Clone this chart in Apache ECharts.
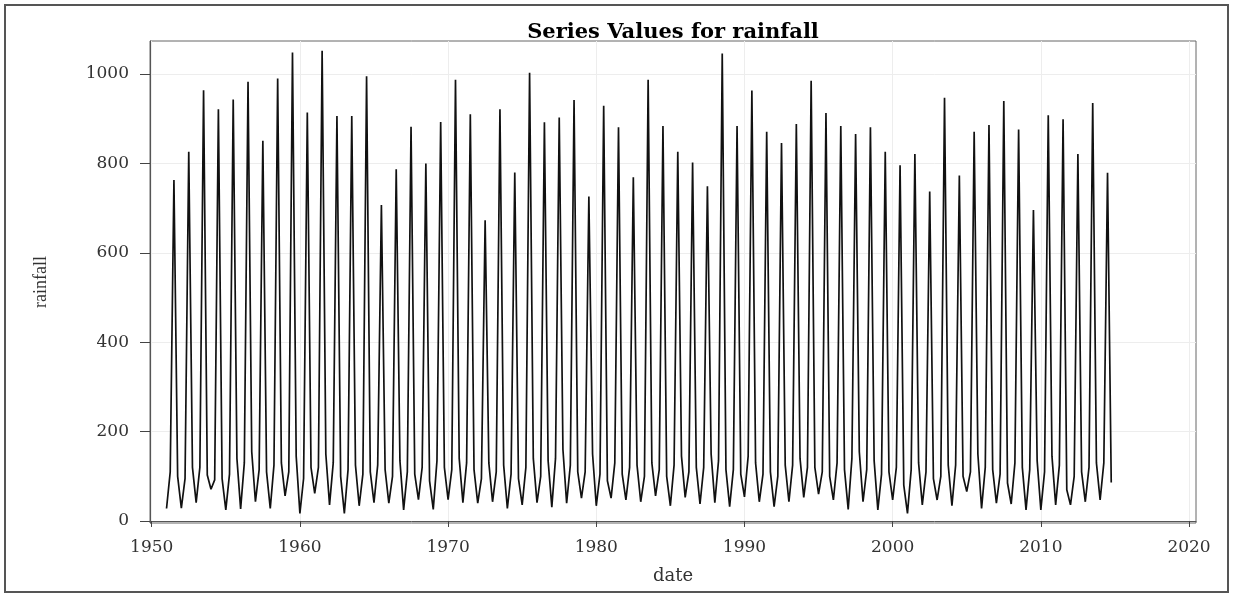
<!DOCTYPE html>
<html>
<head>
<meta charset="utf-8">
<script src="https://cdn.jsdelivr.net/npm/echarts@6/dist/echarts.min.js"></script>
<style>
html,body{margin:0;padding:0;background:#fff;}
#c{width:1233px;height:595px;}
</style>
</head>
<body>
<div id="c"></div>
<script>
// Seasonal rainfall, one row per year (1951-2014): winter (Q1), pre-monsoon (Q2), monsoon (Q3), post-monsoon (Q4)
const firstYear = 1951;
const q1Winter = [28,29,41,71,25,27,43,28,56,17, 62,36,17,34,41,40,25,48,26,48, 41,40,43,28,36,41,31,40,51,34, 51,47,43,56,34,53,38,41,32,54, 43,32,43,53,60,47,26,43,25,47, 17,36,47,34,66,28,40,38,25,25, 36,36,43,47];
const q2PreMonsoon = [110,95,120,92,105,130,115,125,110,95, 120,130,115,105,125,100,110,120,135,115, 130,95,110,105,120,100,140,125,110,105, 130,120,100,115,125,110,120,135,115,145, 105,100,125,120,110,130,140,115,105,120, 115,110,100,125,110,120,105,130,115,110, 125,100,120,130];
const q3Monsoon = [763,826,964,921,943,983,851,990,1048,914, 1052,906,906,995,707,787,882,800,893,987, 910,673,921,780,1003,892,903,942,726,929, 881,769,987,884,826,802,749,1046,884,963, 871,846,888,985,913,884,866,881,826,796, 821,737,947,773,871,886,940,876,696,908, 899,821,935,779];
const q4PostMonsoon = [100,120,103,95,140,155,110,130,145,120, 150,100,125,110,115,135,105,90,120,140, 115,130,125,95,140,135,160,110,150,90, 105,125,130,100,145,120,150,115,105,130, 110,125,140,120,100,115,155,135,110,80, 130,95,125,100,150,115,85,120,135,145, 70,110,130,86];
const xTicks = [1950,1960,1970,1980,1990,2000,2010,2020];
const yTicks = [0,200,400,600,800,1000];

const seasons = [q1Winter, q2PreMonsoon, q3Monsoon, q4PostMonsoon];
const seriesData = [];
for (let i = 0; i < q3Monsoon.length; i++) {
  for (let s = 0; s < 4; s++) {
    seriesData.push([firstYear + i + s * 0.25, seasons[s][i]]);
  }
}

const serifWide = '"DejaVu Serif","Liberation Serif",serif';
const serif = '"Liberation Serif","DejaVu Serif",serif';
const plain = function (v) { return String(v); };
const chart = echarts.init(document.getElementById('c'), null, {renderer: 'canvas'});
chart.setOption({
  animation: false,
  backgroundColor: '#fff',
  title: {
    text: 'Series Values for rainfall',
    left: 668,
    textAlign: 'center',
    top: 17,
    textStyle: {fontFamily: serifWide, fontWeight: 'bold', fontSize: 21, color: '#000'}
  },
  grid: {
    left: 150, right: 37, top: 41, bottom: 72,
    show: true, borderColor: '#666', borderWidth: 1, backgroundColor: 'transparent'
  },
  xAxis: {
    type: 'value',
    min: 1949.885, max: 2020.47,
    splitNumber: 7,
    name: 'date',
    nameLocation: 'middle',
    nameGap: 44,
    nameTextStyle: {fontFamily: serifWide, fontSize: 18, color: '#333'},
    axisLine: {show: true, lineStyle: {color: '#555', width: 1}},
    axisTick: {show: true, inside: false, length: 6, customValues: xTicks, lineStyle: {color: '#444'}},
    axisLabel: {customValues: xTicks, formatter: plain, margin: 16, fontFamily: serifWide, fontSize: 17, color: '#333'},
    splitLine: {show: true, lineStyle: {color: '#ededed', width: 1}}
  },
  yAxis: {
    type: 'value',
    min: -4.5, max: 1074,
    splitNumber: 5,
    name: 'rainfall',
    nameLocation: 'middle',
    nameRotate: 90,
    nameGap: 100,
    nameTextStyle: {fontFamily: serif, fontSize: 18, color: '#333'},
    axisLine: {show: true, lineStyle: {color: '#555', width: 1}},
    axisTick: {show: true, inside: false, length: 10, customValues: yTicks, lineStyle: {color: '#444'}},
    axisLabel: {customValues: yTicks, formatter: plain, margin: 21, fontFamily: serifWide, fontSize: 17, color: '#333'},
    splitLine: {show: true, lineStyle: {color: '#ededed', width: 1}}
  },
  graphic: [{
    type: 'rect',
    shape: {x: 5, y: 5, width: 1223, height: 587},
    style: {fill: 'none', stroke: '#555', lineWidth: 2},
    silent: true
  }],
  series: [{
    type: 'line',
    data: seriesData,
    showSymbol: false,
    symbol: 'none',
    lineStyle: {color: '#111', width: 1.7},
    itemStyle: {color: '#111'}
  }]
});
</script>
</body>
</html>
